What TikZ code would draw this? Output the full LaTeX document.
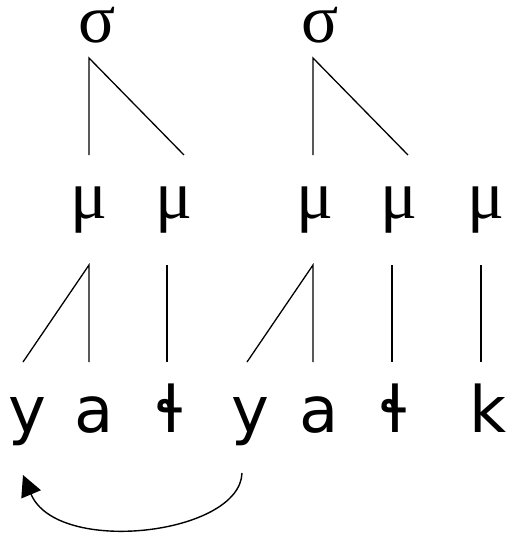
\documentclass[tikz,border=0pt]{standalone}
\usepackage{fontspec}
\setmainfont{Liberation Serif}
\newfontfamily\segfont{DejaVu Sans}
\usetikzlibrary{arrows.meta}
\begin{document}
\begin{tikzpicture}[x=1pt,y=-1pt,
  greek/.style={anchor=base,inner sep=0pt,text height=0.45em,text depth=0.18em,
    font=\fontsize{69}{69}\selectfont},
  seg/.style={anchor=base,inner sep=0pt,text height=0.72em,text depth=0.2em,
    font=\segfont\fontsize{64}{64}\selectfont},
  assoc/.style={line width=1.3pt},
  movearrow/.style={line width=1.4pt,-{Triangle[length=21pt,width=21pt]}}]
\useasboundingbox (0,0) rectangle (508,533);
% syllables
\node[greek] (s1) at (97,42) {σ};
\node[greek] (s2) at (320,42) {σ};
% moras
\node[greek] (m1) at (89,218) {μ};
\node[greek] (m2) at (174,218) {μ};
\node[greek] (m3) at (315,218) {μ};
\node[greek] (m4) at (399,218) {μ};
\node[greek] (m5) at (486,218) {μ};
% segments
\node[seg] (x1) at (27,432) {y};
\node[seg] (x2) at (94,432) {a};
\node[seg] (x3) at (171,432) {ɬ};
\node[seg] (x4) at (250,432) {y};
\node[seg] (x5) at (319,432) {a};
\node[seg] (x6) at (395,432) {ɬ};
\node[seg] (x7) at (488,432) {k};
% association line end points
\coordinate (s1b) at (89,58);
\coordinate (s2b) at (313,58);
\coordinate (m1t) at (89,155);
\coordinate (m2t) at (184,155);
\coordinate (m3t) at (313,155);
\coordinate (m4t) at (408,155);
\coordinate (m1b) at (89,265);
\coordinate (m2b) at (167,265);
\coordinate (m3b) at (313,265);
\coordinate (m4b) at (392,265);
\coordinate (m5b) at (481,265);
\coordinate (x1t) at (23,362);
\coordinate (x2t) at (89,362);
\coordinate (x3t) at (167,362);
\coordinate (x4t) at (247,362);
\coordinate (x5t) at (313,362);
\coordinate (x6t) at (392,362);
\coordinate (x7t) at (481,362);
\draw[assoc] (m1t) -- (s1b) -- (m2t);
\draw[assoc] (m3t) -- (s2b) -- (m4t);
\draw[assoc] (x1t) -- (m1b) -- (x2t);
\draw[assoc] (m2b) -- (x3t);
\draw[assoc] (x4t) -- (m3b) -- (x5t);
\draw[assoc] (m4b) -- (x6t);
\draw[assoc] (m5b) -- (x7t);
% arrow
\coordinate (fromy) at (242,473);
\coordinate (toy) at (23,475);
\draw[movearrow] (fromy) .. controls (240,535) and (57,556) .. (toy);
\end{tikzpicture}
\end{document}
